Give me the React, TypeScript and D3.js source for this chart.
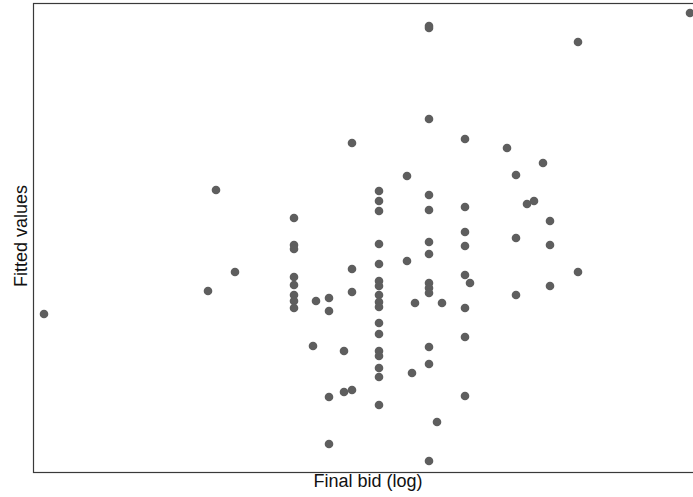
import React, { useEffect, useRef } from "react"
import * as d3 from "d3"

// final bid (log) positions, arbitrary units
const bidValues = [
  1.1, 17.5, 18.3, 20.2,
  26.1, 26.1, 26.1, 26.1, 26.1, 26.1, 26.1, 26.1,
  28.0, 28.3, 29.6, 29.6, 29.6, 29.6,
  31.1, 31.1, 31.9, 31.9, 31.9, 31.9,
  34.6, 34.6, 34.6, 34.6, 34.6, 34.6, 34.6, 34.6, 34.6, 34.6, 34.6, 34.6, 34.6, 34.6, 34.6, 34.6, 34.6,
  37.4, 37.4, 37.9, 38.2,
  39.6, 39.6, 39.6, 39.6, 39.6, 39.6, 39.6, 39.6, 39.6, 39.6, 39.6, 39.6, 39.6,
  40.4, 40.9,
  43.2, 43.2, 43.2, 43.2, 43.2, 43.2, 43.2, 43.2, 43.7,
  47.4, 48.3, 48.3, 48.3, 49.4, 50.1, 51.0,
  51.7, 51.7, 51.7, 54.5, 54.5, 65.7,
]

// fitted values, same order as bidValues
const fittedValues = [
  15.8, 18.1, 28.2, 20.0,
  25.4, 22.7, 22.3, 19.5, 18.7, 17.7, 17.1, 16.4,
  12.6, 17.1, 17.4, 16.1, 7.5, 2.8,
  12.1, 8.0, 8.2, 20.3, 18.0, 32.9,
  28.1, 27.1, 26.1, 22.8, 20.8, 19.1, 18.6, 17.7, 17.0, 16.5, 14.9, 13.8, 12.1, 11.6, 10.4, 9.5, 6.7,
  29.6, 21.1, 9.9, 16.9,
  44.6, 44.4, 35.3, 27.7, 26.2, 23.0, 21.8, 18.9, 18.4, 17.9, 12.5, 10.8, 1.1,
  5.0, 16.9,
  33.3, 26.5, 24.0, 22.6, 19.7, 16.4, 13.5, 7.6, 18.9,
  32.4, 29.7, 23.4, 17.7, 26.8, 27.1, 30.9,
  25.1, 22.7, 18.6, 43.0, 20.0, 45.9,
]

const xTitle = "Final bid (log)"
const yTitle = "Fitted values"

export default function App() {
  const ref = useRef<SVGSVGElement>(null)

  useEffect(() => {
    const width = 693,
      height = 497
    const left = 33,
      top = 3,
      bottom = 472

    const svg = d3.select(ref.current)
    svg.selectAll("*").remove()
    svg.attr("width", width).attr("height", height)

    const x = d3.scaleLinear().domain([0, 66]).range([left, width])
    const y = d3.scaleLinear().domain([0, 47]).range([bottom, top - 1])

    // plot frame (right side runs past the window)
    svg
      .append("rect")
      .attr("x", left + 0.5)
      .attr("y", top + 0.5)
      .attr("width", 720 - left)
      .attr("height", bottom - top)
      .attr("fill", "white")
      .attr("stroke", "#3a3a3a")
      .attr("stroke-width", 1.2)

    svg
      .append("g")
      .selectAll("circle")
      .data(d3.zip(bidValues, fittedValues))
      .enter()
      .append("circle")
      .attr("cx", (d) => x(d[0]))
      .attr("cy", (d) => y(d[1]))
      .attr("r", 4.3)
      .attr("fill", "#5e5e5e")

    svg
      .append("text")
      .attr("x", 368)
      .attr("y", 487)
      .attr("text-anchor", "middle")
      .attr("font-family", "Liberation Sans, Arial, sans-serif")
      .attr("font-size", 18)
      .attr("fill", "#111")
      .text(xTitle)

    svg
      .append("text")
      .attr("transform", "translate(27,236) rotate(-90)")
      .attr("text-anchor", "middle")
      .attr("font-family", "Liberation Sans, Arial, sans-serif")
      .attr("font-size", 18)
      .attr("fill", "#111")
      .text(yTitle)
  }, [])

  return (
    <svg
      ref={ref}
      style={{ position: "absolute", left: 0, top: 0, display: "block", background: "white" }}
    />
  )
}
